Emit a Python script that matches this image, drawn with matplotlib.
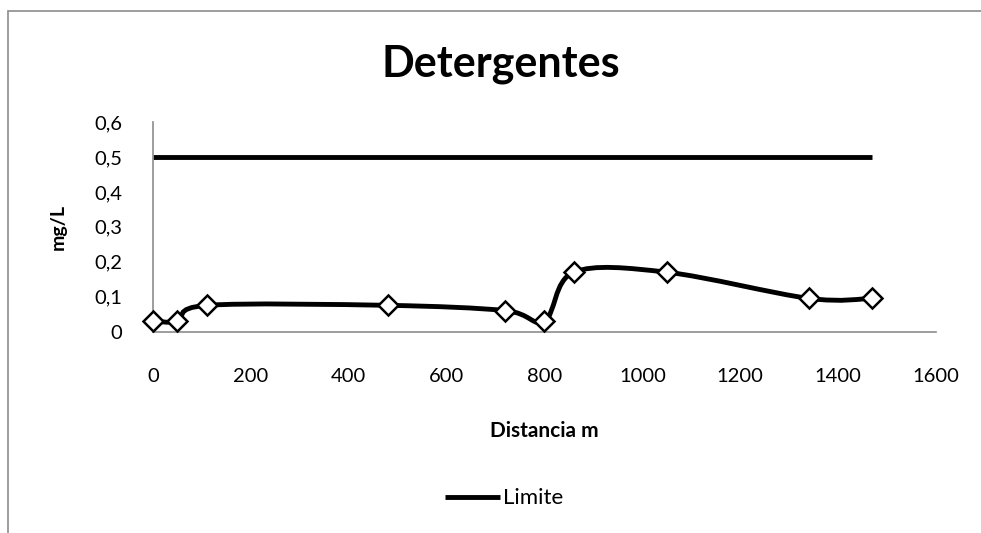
import numpy as np
import matplotlib.pyplot as plt
from matplotlib.path import Path
from matplotlib.patches import PathPatch, Rectangle
from matplotlib.ticker import FuncFormatter

plt.rcParams['font.family'] = ['Lato', 'DejaVu Sans']

# muestreo de detergentes a lo largo del cauce
distancia = [0, 50, 110, 480, 720, 800, 860, 1050, 1340, 1470]
detergentes = [0.03, 0.03, 0.075, 0.075, 0.06, 0.03, 0.17, 0.17, 0.095, 0.095]
limite = [0.5] * len(distancia)


def smooth_path(x, y):
    # curva suavizada tipo Excel (Bezier con tangentes Catmull-Rom)
    pts = np.column_stack([x, y]).astype(float)
    verts = [pts[0]]
    codes = [Path.MOVETO]
    n = len(pts)
    for i in range(n - 1):
        p0 = pts[i - 1] if i > 0 else pts[i]
        p1 = pts[i]
        p2 = pts[i + 1]
        p3 = pts[i + 2] if i + 2 < n else pts[i + 1]
        c1 = p1 + (p2 - p0) / 6.0
        c2 = p2 - (p3 - p1) / 6.0
        verts += [c1, c2, p2]
        codes += [Path.CURVE4] * 3
    return Path(verts, codes)


fig = plt.figure(figsize=(9.81, 5.33), dpi=100)
ax = fig.add_axes([0.156, 0.378, 0.798, 0.393])

# marco del grafico
fig.patches.append(Rectangle((8 / 981, -0.1), 1.1, 1.1 - 11 / 533,
                             transform=fig.transFigure, fill=False,
                             edgecolor='#8c8c8c', linewidth=1.2))

ax.plot(distancia, limite, color='black', linewidth=3.5, label='Limite',
        solid_capstyle='butt')
ax.add_patch(PathPatch(smooth_path(distancia, detergentes), facecolor='none',
                       edgecolor='black', linewidth=3.5))
ax.plot(distancia, detergentes, linestyle='none', marker='D', markersize=10.5,
        markerfacecolor='white', markeredgecolor='black', markeredgewidth=1.8,
        clip_on=False, zorder=5)

ax.set_xlim(0, 1600)
ax.set_ylim(0, 0.6)
ax.set_xticks(range(0, 1601, 200))
ax.set_yticks(np.arange(0, 0.61, 0.1))
ax.yaxis.set_major_formatter(FuncFormatter(
    lambda v, p: '0' if abs(v) < 1e-9 else f'{v:.1f}'.replace('.', ',')))
ax.tick_params(axis='both', length=0, labelsize=14.5)
ax.tick_params(axis='x', pad=26)
ax.tick_params(axis='y', pad=22)

for s in ['top', 'right']:
    ax.spines[s].set_visible(False)
for s in ['left', 'bottom']:
    ax.spines[s].set_color('#8c8c8c')
    ax.spines[s].set_linewidth(1.2)

ax.set_xlabel('Distancia m', fontsize=15, fontweight='bold', labelpad=26)
ax.set_ylabel('mg/L', fontsize=14, fontweight='bold', labelpad=20)
fig.text(0.511, 0.88, 'Detergentes', ha='center', va='center',
         fontsize=31, fontweight='bold')

fig.legend(loc='center', bbox_to_anchor=(0.514, 0.065), frameon=False,
           fontsize=16, handlelength=2.45, handletextpad=0.15)

fig.savefig('out.png', dpi=100)
